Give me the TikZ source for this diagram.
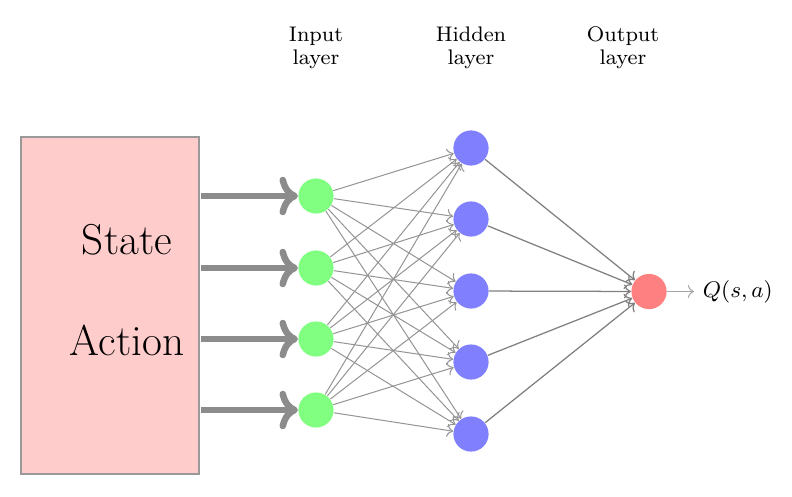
\documentclass[tikz,border=0pt]{standalone}
\usetikzlibrary{arrows.meta}
\begin{document}
\begin{tikzpicture}[x=0.398pt,y=-0.398pt,
  neuron/.style={circle,inner sep=0pt,minimum size=14pt},
  inneuron/.style={neuron,fill=green!50},
  hidneuron/.style={neuron,fill=blue!50},
  outneuron/.style={neuron,fill=red!50},
  layerlabel/.style={align=center,font=\fontsize{8.4}{9}\selectfont},
  bigtext/.style={font=\fontsize{17.2}{20}\selectfont},
  inarrow/.style={-{To[round]},line width=2.6pt,draw=black!45},
  thinedge/.style={->,line width=0.4pt,draw=black!42},
  outedge/.style={->,line width=0.5pt,draw=black!50},
  qarrow/.style={->,line width=0.4pt,draw=black!35}]
\useasboundingbox (0,0) rectangle (792,496);
\node[draw=black!40,line width=0.7pt,fill=red!20,minimum width=71pt,minimum height=134.2pt,inner sep=0pt] (box) at (110,305.5) {};
\node[bigtext] (state) at (127,240) {State};
\node[bigtext] (action) at (127,340) {Action};
\foreach \i/\y in {1/196,2/268,3/339,4/410}{
  \node[inneuron] (I\i) at (316,\y) {};
  \coordinate (S\i) at (200.5,\y);
  \draw[inarrow] (S\i) -- (I\i);
}
\foreach \j/\y in {1/148,2/219,3/291,4/362,5/434}{
  \node[hidneuron] (H\j) at (471,\y) {};
}
\node[outneuron] (O) at (649,291.5) {};
\foreach \i in {1,...,4}
  \foreach \j in {1,...,5}
    \draw[thinedge] (I\i) -- (H\j);
\foreach \j in {1,...,5}
  \draw[outedge] (H\j) -- (O);
\node[font=\fontsize{8.6}{10}\selectfont,anchor=west] (q) at (694,291.5) {$Q(s,a)$};
\draw[qarrow] (O) -- (q);
\node[layerlabel] (li) at (316,48) {Input\\layer};
\node[layerlabel] (lh) at (471,48) {Hidden\\layer};
\node[layerlabel] (lo) at (623,48) {Output\\layer};
\end{tikzpicture}
\end{document}
